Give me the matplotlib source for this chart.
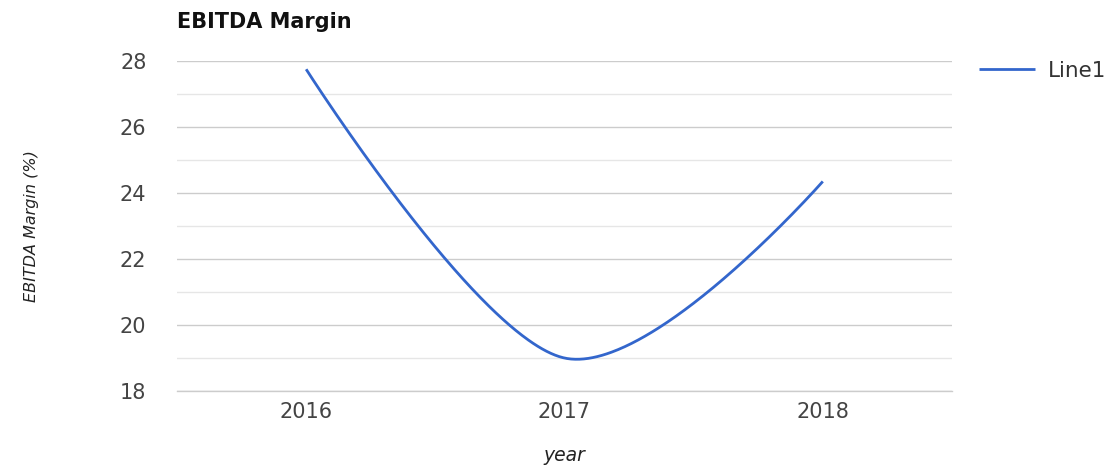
import numpy as np
import matplotlib.pyplot as plt
from matplotlib.ticker import MultipleLocator

# Data
years = ["2016", "2017", "2018"]
margin = [27.75, 19.0, 24.35]

series_name = "Line1"
title = "EBITDA Margin"
x_label = "year"
y_label = "EBITDA Margin (%)"


def smooth(xs, ys, k=1 / 6, n=200):
    # bezier through the points, control points from neighbours,
    # end points use themselves as control point
    p = np.column_stack([np.asarray(xs, float), np.asarray(ys, float)])
    cnt = len(p)
    out = []
    t = np.linspace(0, 1, n)[:, None]
    for i in range(cnt - 1):
        a, b = p[i], p[i + 1]
        c1 = a if i == 0 else a + (p[i + 1] - p[i - 1]) * k
        c2 = b if i + 1 == cnt - 1 else b - (p[i + 2] - p[i]) * k
        seg = ((1 - t) ** 3) * a + 3 * ((1 - t) ** 2) * t * c1 + 3 * (1 - t) * t**2 * c2 + t**3 * b
        out.append(seg)
    out = np.vstack(out)
    return out[:, 0], out[:, 1]


fig = plt.figure(figsize=(11.18, 4.67), dpi=100)
ax = fig.add_axes([0.1583, 0.1627, 0.6932, 0.7067])

x = np.arange(len(years))
cx, cy = smooth(x, margin)
ax.plot(cx, cy, color="#3366cc", lw=2.0, label=series_name, solid_capstyle="butt")

ax.set_xlim(-0.5, len(years) - 0.5)
ax.set_ylim(18, 28)
ax.set_xticks(x)
ax.set_xticklabels(years)
ax.yaxis.set_major_locator(MultipleLocator(2))
ax.yaxis.set_minor_locator(MultipleLocator(1))

ax.grid(axis="y", which="major", color="#cccccc", lw=1.0)
ax.grid(axis="y", which="minor", color="#e6e6e6", lw=1.0)
ax.axhline(18, color="#cccccc", lw=1.0, clip_on=False, zorder=0.5)
ax.set_axisbelow(True)
for s in ax.spines.values():
    s.set_visible(False)

ax.tick_params(axis="both", which="both", length=0, labelcolor="#444444", labelsize=15)
ax.tick_params(axis="y", pad=22)
ax.tick_params(axis="x", pad=8)

ax.set_xlabel(x_label, fontsize=13.5, style="italic", color="#222222", labelpad=17)
ax.set_ylabel(y_label, fontsize=11.5, style="italic", color="#222222", labelpad=58)

fig.text(177 / 1118, 1 - 22 / 467, title, fontsize=15, fontweight="bold",
         color="#111111", ha="left", va="center")

ax.legend(loc="center left", bbox_to_anchor=(979 / 1118, 1 - 71 / 467),
          bbox_transform=fig.transFigure, frameon=False, fontsize=15.5,
          handlelength=2.6, handletextpad=0.6, borderaxespad=0, borderpad=0,
          labelcolor="#333333")

fig.savefig("out.png", dpi=100)
